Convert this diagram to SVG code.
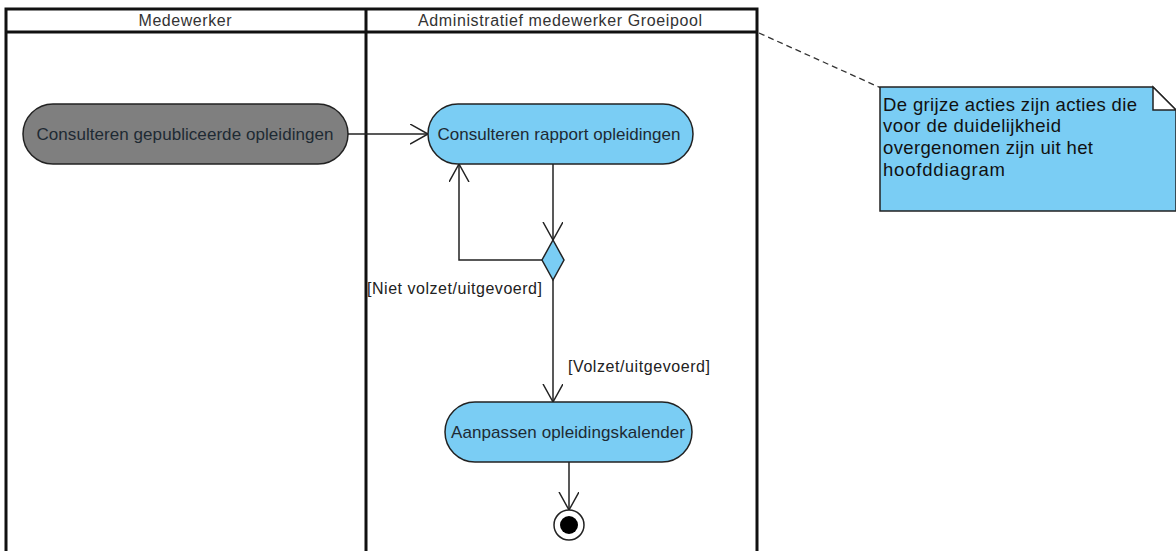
<svg xmlns="http://www.w3.org/2000/svg" width="1176" height="551" viewBox="0 0 1176 551">
  <style>
    .lane { fill: none; stroke: #111; stroke-width: 3; }
    .lanetxt { font-family: "Liberation Sans", Arial, sans-serif; font-size: 16px; fill: #333; text-anchor: middle; }
    .act { stroke: #222; stroke-width: 1.5; }
    .blue { fill: #7acdf4; }
    .grey { fill: #7f7f7f; }
    .acttxt { font-family: "Liberation Sans", Arial, sans-serif; font-size: 17px; fill: #1e2a33; text-anchor: middle; }
    .flow { fill: none; stroke: #222; stroke-width: 1.5; }
    .guard { font-family: "Liberation Sans", Arial, sans-serif; font-size: 16px; fill: #222; }
    .notetxt { font-family: "Liberation Sans", Arial, sans-serif; font-size: 18.5px; fill: #111; }
  </style>
  <defs>
    <marker id="open" markerWidth="20" markerHeight="22" refX="18" refY="10" orient="auto" markerUnits="userSpaceOnUse">
      <path d="M0,0 L18,10 L0,20" fill="none" stroke="#222" stroke-width="1.5"/>
    </marker>
  </defs>

  <rect width="1176" height="551" fill="#fff"/>

  <!-- swimlanes -->
  <g id="lanes">
    <path class="lane" d="M6,560 V9 H757 V560 M6,32 H757 M366,9 V560"/>
    <text class="lanetxt" x="185" y="26" textLength="93" lengthAdjust="spacing">Medewerker</text>
    <text class="lanetxt" x="560" y="26" textLength="284" lengthAdjust="spacing">Administratief medewerker Groeipool</text>
  </g>

  <!-- connectors -->
  <g id="connectors">
    <path class="flow" d="M348,134 H428" marker-end="url(#open)"/>
    <path class="flow" d="M553,164 V240" marker-end="url(#open)"/>
    <path class="flow" d="M542,260 H459 V164" marker-end="url(#open)"/>
    <path class="flow" d="M553,280 V402" marker-end="url(#open)"/>
    <path class="flow" d="M569,462 V510" marker-end="url(#open)"/>
    <path d="M759,33 L881,88" fill="none" stroke="#333" stroke-width="1.3" stroke-dasharray="6,4"/>
    <text class="guard" x="367" y="294" textLength="175" lengthAdjust="spacing">[Niet volzet/uitgevoerd]</text>
    <text class="guard" x="568" y="372" textLength="142" lengthAdjust="spacing">[Volzet/uitgevoerd]</text>
  </g>

  <g id="consulteren-gepubliceerde">
    <rect class="act grey" x="23" y="104" width="325" height="60" rx="30"/>
    <text class="acttxt" x="185" y="140" textLength="297" lengthAdjust="spacing">Consulteren gepubliceerde opleidingen</text>
  </g>

  <g id="consulteren-rapport">
    <rect class="act blue" x="428" y="104" width="265" height="60" rx="30"/>
    <text class="acttxt" x="559" y="140" textLength="243" lengthAdjust="spacing">Consulteren rapport opleidingen</text>
  </g>

  <g id="beslissing">
    <polygon class="act blue" points="553,240 564,260 553,280 542,260"/>
  </g>

  <g id="aanpassen-kalender">
    <rect class="act blue" x="445" y="402" width="247" height="60" rx="30"/>
    <text class="acttxt" x="568" y="438" textLength="234" lengthAdjust="spacing">Aanpassen opleidingskalender</text>
  </g>

  <g id="eindpunt">
    <circle cx="569" cy="525" r="15" fill="#fff" stroke="#222" stroke-width="1.5"/>
    <circle cx="569" cy="525" r="9" fill="#000"/>
  </g>

  <g id="notitie">
    <polygon class="act blue" points="880,87 1153,87 1176,110 1176,211 880,211"/>
    <polygon points="1153,87 1153,110 1176,110" fill="#fff" stroke="#222" stroke-width="1.5"/>
    <text class="notetxt" x="883" y="110.5" textLength="254" lengthAdjust="spacing">De grijze acties zijn acties die</text>
    <text class="notetxt" x="883" y="132" textLength="178" lengthAdjust="spacing">voor de duidelijkheid</text>
    <text class="notetxt" x="883" y="154" textLength="210" lengthAdjust="spacing">overgenomen zijn uit het</text>
    <text class="notetxt" x="883" y="175.5" textLength="122" lengthAdjust="spacing">hoofddiagram</text>
  </g>
</svg>
